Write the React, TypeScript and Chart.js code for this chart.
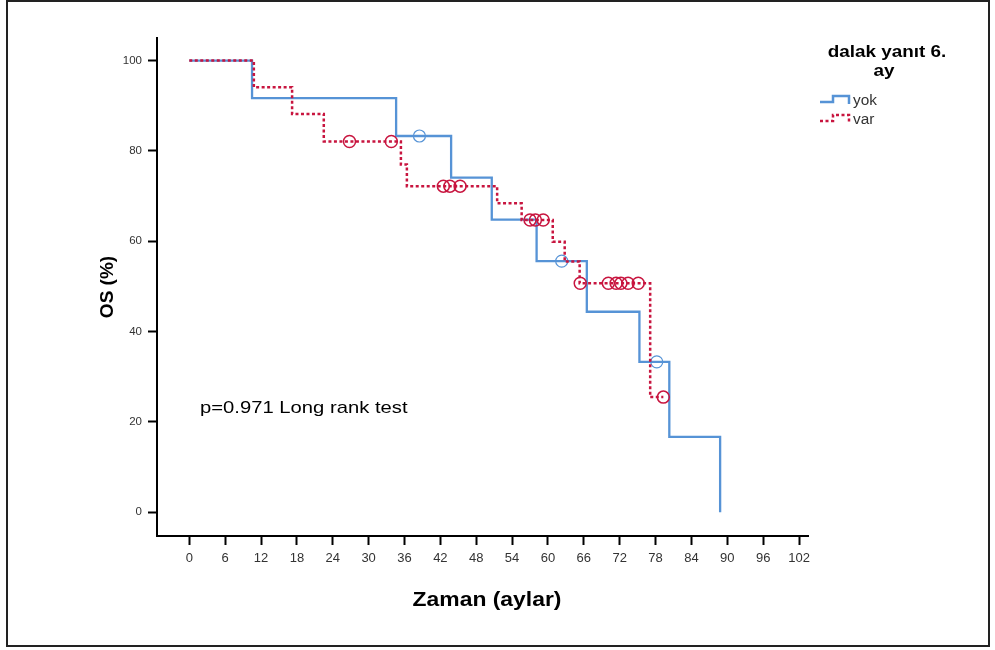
import React, { useEffect, useRef } from 'react';
import { Chart, registerables } from 'chart.js';

Chart.register(...registerables);

// ---- data ----
const xTickValues = [0, 6, 12, 18, 24, 30, 36, 42, 48, 54, 60, 66, 72, 78, 84, 90, 96, 102];
const yTickValues = [0, 20, 40, 60, 80, 100];

const yokDropTimes = [10.5, 34.6, 43.8, 50.6, 58.1, 66.5, 75.3, 80.3, 88.8];
const yokSurvival = [91.7, 83.3, 74.1, 64.8, 55.6, 44.4, 33.3, 16.7, 0];
const yokCensorTimes = [38.5, 62.3, 78.2];

const varDropTimes = [10.8, 17.2, 22.5, 35.4, 36.4, 51.5, 55.6, 60.8, 62.8, 65.3, 77.1];
const varSurvival = [94.1, 88.2, 82.1, 77.0, 72.2, 68.4, 64.7, 59.9, 55.5, 50.7, 25.5];
const varCensorTimes = [26.8, 33.8, 42.5, 43.6, 45.3, 57.0, 57.9, 59.2, 65.4, 70.1, 71.4, 72.2, 73.4, 75.1, 79.3];
const varEndTime = 79.3;

const seriesNames = ['yok', 'var'];
const seriesColors = ['#5693d6', '#c8153f'];
const legendTitleLines = ['dalak yanıt 6.', 'ay'];
const xAxisTitle = 'Zaman (aylar)';
const yAxisTitle = 'OS (%)';
const noteText = 'p=0.971 Long rank test';

const FONT = '"Liberation Sans", Arial, Helvetica, sans-serif';

function stepPoints(times: number[], surv: number[], endTime?: number) {
  const pts: { x: number; y: number }[] = [{ x: 0, y: 100 }];
  let prev = 100;
  times.forEach((t, i) => {
    pts.push({ x: t, y: prev });
    pts.push({ x: t, y: surv[i] });
    prev = surv[i];
  });
  if (endTime !== undefined && endTime > times[times.length - 1]) {
    pts.push({ x: endTime, y: prev });
  }
  return pts;
}

function survivalAt(times: number[], surv: number[], t: number) {
  let s = 100;
  times.forEach((tt, i) => {
    if (tt <= t) s = surv[i];
  });
  return s;
}

function stretchedText(
  ctx: CanvasRenderingContext2D,
  text: string,
  x: number,
  y: number,
  font: string,
  align: CanvasTextAlign,
  sx: number,
  color: string
) {
  ctx.save();
  ctx.translate(x, y);
  ctx.scale(sx, 1);
  ctx.font = font;
  ctx.textAlign = align;
  ctx.textBaseline = 'middle';
  ctx.fillStyle = color;
  ctx.fillText(text, 0, 0);
  ctx.restore();
}

const overlayPlugin = {
  id: 'overlayText',
  afterDraw(chart: any) {
    const ctx = chart.ctx as CanvasRenderingContext2D;
    ctx.save();
    // y axis title
    ctx.save();
    ctx.translate(108, 287);
    ctx.rotate(-Math.PI / 2);
    ctx.font = `bold 19px ${FONT}`;
    ctx.textAlign = 'center';
    ctx.textBaseline = 'middle';
    ctx.fillStyle = '#000';
    ctx.fillText(yAxisTitle, 0, 0);
    ctx.restore();
    // x axis title
    stretchedText(ctx, xAxisTitle, 487, 600, `bold 21px ${FONT}`, 'center', 1.09, '#000');
    // note
    stretchedText(ctx, noteText, 200, 408, `17px ${FONT}`, 'left', 1.19, '#000');
    // legend title
    stretchedText(ctx, legendTitleLines[0], 887, 52, `bold 17px ${FONT}`, 'center', 1.11, '#000');
    stretchedText(ctx, legendTitleLines[1], 884, 71, `bold 17px ${FONT}`, 'center', 1.11, '#000');
    // legend items
    const rows = [101, 120];
    seriesNames.forEach((name, i) => {
      const y = rows[i];
      ctx.strokeStyle = seriesColors[i];
      ctx.lineWidth = 2.5;
      ctx.setLineDash(i === 1 ? [3, 2.5] : []);
      ctx.beginPath();
      ctx.moveTo(820, y + 1);
      ctx.lineTo(833, y + 1);
      ctx.lineTo(833, y - 5);
      ctx.lineTo(849, y - 5);
      ctx.lineTo(849, y + 3);
      ctx.stroke();
      ctx.setLineDash([]);
      stretchedText(ctx, name, 853, y, `14px ${FONT}`, 'left', 1.1, '#333');
    });
    ctx.restore();
  },
};

export default function App() {
  const canvasRef = useRef<HTMLCanvasElement | null>(null);

  useEffect(() => {
    if (!canvasRef.current) return;
    const yokLine = stepPoints(yokDropTimes, yokSurvival);
    const varLine = stepPoints(varDropTimes, varSurvival, varEndTime);
    const yokCens = yokCensorTimes.map((t) => ({ x: t, y: survivalAt(yokDropTimes, yokSurvival, t) }));
    const varCens = varCensorTimes.map((t) => ({ x: t, y: survivalAt(varDropTimes, varSurvival, t) }));

    const chart = new Chart(canvasRef.current, {
      type: 'scatter',
      data: {
        datasets: [
          {
            label: seriesNames[1] + ' censored',
            data: varCens,
            showLine: false,
            pointRadius: 6,
            pointBorderWidth: 1.5,
            pointBorderColor: seriesColors[1],
            pointBackgroundColor: 'rgba(0,0,0,0)',
            order: 0,
          },
          {
            label: seriesNames[1],
            data: varLine,
            showLine: true,
            pointRadius: 0,
            borderColor: seriesColors[1],
            borderWidth: 2.5,
            borderDash: [3, 2.5],
            borderJoinStyle: 'miter',
            borderCapStyle: 'butt',
            order: 1,
          },
          {
            label: seriesNames[0] + ' censored',
            data: yokCens,
            showLine: false,
            pointRadius: 6,
            pointBorderWidth: 1.2,
            pointBorderColor: seriesColors[0],
            pointBackgroundColor: 'rgba(0,0,0,0)',
            order: 2,
          },
          {
            label: seriesNames[0],
            data: yokLine,
            showLine: true,
            pointRadius: 0,
            borderColor: seriesColors[0],
            borderWidth: 2.3,
            borderJoinStyle: 'miter',
            order: 3,
          },
        ] as any,
      },
      options: {
        responsive: false,
        animation: false,
        layout: { padding: { left: 0, right: 187, top: 38, bottom: 0 } },
        plugins: { legend: { display: false }, tooltip: { enabled: false } },
        scales: {
          x: {
            type: 'linear',
            min: -5.4,
            max: 103.5,
            afterFit: (s: any) => { s.height = 114; },
            afterBuildTicks: (s: any) => { s.ticks = xTickValues.map((v) => ({ value: v })); },
            ticks: { color: '#333', font: { family: FONT, size: 13 }, padding: 6, maxRotation: 0, autoSkip: false },
            grid: { drawOnChartArea: false, drawTicks: true, tickLength: 9, tickWidth: 2, tickColor: '#000' },
            border: { display: true, color: '#000', width: 2 },
          },
          y: {
            type: 'linear',
            min: -5.25,
            max: 105,
            afterFit: (s: any) => { s.width = 157; },
            afterBuildTicks: (s: any) => { s.ticks = yTickValues.map((v) => ({ value: v })); },
            ticks: { color: '#333', font: { family: FONT, size: 11.5 }, padding: 6 },
            grid: { drawOnChartArea: false, drawTicks: true, tickLength: 9, tickWidth: 2, tickColor: '#000' },
            border: { display: true, color: '#000', width: 2 },
          },
        },
      } as any,
      plugins: [overlayPlugin],
    });
    return () => chart.destroy();
  }, []);

  return (
    <div style={{ position: 'fixed', left: 0, top: 0, width: 995, height: 650, background: '#fff' }}>
      <canvas ref={canvasRef} width={995} height={650} style={{ position: 'absolute', left: 0, top: 0 }} />
      <div
        style={{
          position: 'absolute',
          left: 6,
          top: 0,
          width: 980,
          height: 643,
          border: '2px solid #222',
          pointerEvents: 'none',
        }}
      />
    </div>
  );
}
